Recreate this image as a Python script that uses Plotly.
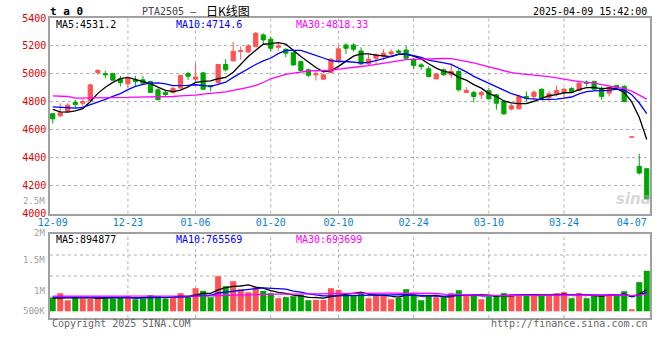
import plotly.graph_objects as go
import pandas as pd

# ---------------- data ----------------
dates = [
    "2024-12-09", "2024-12-10", "2024-12-11", "2024-12-12", "2024-12-13", "2024-12-16", "2024-12-17",
    "2024-12-18", "2024-12-19", "2024-12-20", "2024-12-23", "2024-12-24", "2024-12-25", "2024-12-26",
    "2024-12-27", "2024-12-30", "2024-12-31",
    "2025-01-02", "2025-01-03", "2025-01-06", "2025-01-07", "2025-01-08", "2025-01-09", "2025-01-10",
    "2025-01-13", "2025-01-14", "2025-01-15", "2025-01-16", "2025-01-17", "2025-01-20", "2025-01-21",
    "2025-01-22", "2025-01-23", "2025-01-24", "2025-01-27",
    "2025-02-05", "2025-02-06", "2025-02-07", "2025-02-10", "2025-02-11", "2025-02-12", "2025-02-13",
    "2025-02-14", "2025-02-17", "2025-02-18", "2025-02-19", "2025-02-20", "2025-02-21", "2025-02-24",
    "2025-02-25", "2025-02-26", "2025-02-27", "2025-02-28",
    "2025-03-03", "2025-03-04", "2025-03-05", "2025-03-06", "2025-03-07", "2025-03-10", "2025-03-11",
    "2025-03-12", "2025-03-13", "2025-03-14", "2025-03-17", "2025-03-18", "2025-03-19", "2025-03-20",
    "2025-03-21", "2025-03-24", "2025-03-25", "2025-03-26", "2025-03-27", "2025-03-28", "2025-03-31",
    "2025-04-01", "2025-04-02", "2025-04-03", "2025-04-07", "2025-04-08", "2025-04-09",
]

open_ = [4715, 4700, 4731, 4795, 4790, 4810, 5010, 5002, 5002, 4964,
         4929, 4957, 4957, 4945, 4886, 4867, 4867, 4898, 5002, 4962,
         5007, 4917, 4938, 5067, 5093, 5160, 5157, 5195, 5279, 5248,
         5190, 5176, 5152, 5088, 5029, 4993, 4962, 5010, 5095, 5207,
         5207, 5164, 5071, 5112, 5124, 5143, 5164, 5171, 5105, 5064,
         5036, 4964, 5029, 4993, 5017, 4867, 4867, 4850, 4879, 4850,
         4802, 4748, 4750, 4838, 4838, 4890, 4831, 4857, 4871, 4895,
         4881, 4940, 4945, 4898, 4862, 4917, 4910, 4548, 4338, 4321]
high = [4718, 4790, 4790, 4814, 4820, 4929, 5036, 5021, 5005, 4986,
        4981, 4986, 4986, 4950, 4898, 4879, 4910, 4993, 5014, 5076,
        5014, 4921, 5072, 5105, 5229, 5195, 5214, 5300, 5290, 5267,
        5224, 5183, 5160, 5095, 5038, 5029, 5000, 5114, 5200, 5219,
        5219, 5190, 5136, 5148, 5176, 5176, 5176, 5200, 5112, 5076,
        5057, 5000, 5040, 5076, 5033, 4905, 4879, 4879, 4898, 4857,
        4807, 4786, 4850, 4874, 4881, 4895, 4879, 4914, 4898, 4905,
        4952, 4952, 4952, 4910, 4910, 4921, 4921, 4548, 4428, 4321]
low = [4645, 4690, 4728, 4755, 4767, 4805, 4993, 4969, 4950, 4910,
       4898, 4914, 4929, 4862, 4814, 4838, 4857, 4893, 4957, 4945,
       4886, 4874, 4930, 5017, 5088, 5100, 5148, 5190, 5207, 5160,
       5167, 5119, 5057, 5017, 4976, 4952, 4960, 5005, 5090, 5143,
       5160, 5064, 5062, 5064, 5100, 5129, 5143, 5105, 5036, 5029,
       4974, 4962, 4988, 4969, 4874, 4862, 4795, 4819, 4814, 4743,
       4707, 4738, 4743, 4802, 4802, 4819, 4807, 4838, 4826, 4867,
       4874, 4910, 4886, 4814, 4838, 4886, 4795, 4548, 4279, 4100]
close = [4678, 4722, 4776, 4781, 4800, 4921, 5024, 4993, 4955, 4938,
         4964, 4945, 4933, 4867, 4814, 4852, 4895, 4988, 4983, 4978,
         4890, 4907, 5067, 5029, 5162, 5165, 5200, 5290, 5243, 5183,
         5200, 5148, 5064, 5024, 4990, 5000, 4993, 5105, 5179, 5183,
         5176, 5071, 5105, 5136, 5148, 5157, 5155, 5112, 5060, 5052,
         4981, 5000, 4993, 5017, 4886, 4881, 4838, 4867, 4821, 4790,
         4714, 4771, 4838, 4826, 4869, 4826, 4857, 4881, 4890, 4871,
         4933, 4933, 4890, 4838, 4902, 4905, 4802, 4548, 4290, 4105]
volume = [560000, 738000, 451000, 547000, 519000, 519000, 601000, 519000, 519000, 588000,
          629000, 492000, 519000, 656000, 615000, 519000, 574000, 738000, 574000, 943000,
          834000, 574000, 1435000, 1025000, 1230000, 902000, 779000, 984000, 834000, 738000,
          533000, 574000, 615000, 670000, 451000, 465000, 465000, 943000, 875000, 656000,
          656000, 779000, 533000, 683000, 656000, 492000, 547000, 902000, 683000, 451000,
          642000, 574000, 574000, 738000, 861000, 629000, 697000, 492000, 601000, 656000,
          738000, 656000, 656000, 697000, 656000, 656000, 656000, 738000, 779000, 533000,
          738000, 533000, 656000, 656000, 697000, 697000, 820000, 82000, 1189000, 1654000]

# moving-average values at the start of the window (history before 12-09)
price_ma5_head = [4745, 4728, 4726, 4735]
price_ma10_head = [4764, 4762, 4757, 4755, 4760, 4778, 4798, 4818, 4838]
price_ma30_head = [4843, 4843, 4838, 4826, 4826, 4826, 4829, 4831, 4831, 4829,
                   4831, 4833, 4833, 4833, 4836, 4838, 4838, 4843, 4845, 4848,
                   4855, 4860, 4864, 4871, 4881, 4890, 4903, 4918, 4938]
vol_ma5_head = [540000, 545000, 550000, 555000]
vol_ma10_head = [575000, 575000, 575000, 575000, 570000, 570000, 565000, 565000, 560000]
vol_ma30_head = [620000, 620000, 615000, 615000, 610000, 610000, 610000, 605000, 605000, 605000,
                 600000, 600000, 600000, 600000, 600000, 600000, 600000, 600000, 605000, 615000,
                 625000, 630000, 645000, 655000, 665000, 675000, 685000, 695000, 700000]

first_tick = "2024-12-09"
tick_dates = ["2024-12-23", "2025-01-06", "2025-01-20", "2025-02-10", "2025-02-24",
              "2025-03-10", "2025-03-24", "2025-04-07"]
price_ticks = [4000, 4200, 4400, 4600, 4800, 5000, 5200, 5400]
vol_tick_labels = ["2.5M", "2M", "1.5M", "1M", "500K"]

symbol_text = "t a 0"
title_code = "PTA2505 \u2013"
title_cn = "日K线图"
timestamp = "2025-04-09 15:42:00"
price_ma_text = ["MA5:4531.2", "MA10:4714.6", "MA30:4818.33"]
vol_ma_text = ["MA5:894877", "MA10:765569", "MA30:693699"]
copyright_text = "Copyright 2025 SINA.COM"
url_text = "http://finance.sina.com.cn"

# ---------------- styles ----------------
RED = "#ff5252"
GREEN = "#00a600"
MONO = "DejaVu Sans Mono"
GRID = "#b0b0b0"
BORDER = "#a0a0a0"
MA_COLORS = ["#000000", "#0000ff", "#ff00ff"]


def moving_average(values, n, head):
    s = pd.Series(values, dtype=float).rolling(n).mean()
    return list(head) + list(s.iloc[len(head):])


is_red = [c >= o for o, c in zip(open_, close)]

price_ma = [moving_average(close, 5, price_ma5_head),
            moving_average(close, 10, price_ma10_head),
            moving_average(close, 30, price_ma30_head)]
vol_ma = [moving_average(volume, 5, vol_ma5_head),
          moving_average(volume, 10, vol_ma10_head),
          moving_average(volume, 30, vol_ma30_head)]

fig = go.Figure()


def pick(arr, flag):
    return [v if f == flag else None for v, f in zip(arr, is_red)]


for flag, col in [(True, RED), (False, GREEN)]:
    fig.add_trace(go.Candlestick(
        x=dates, open=pick(open_, flag), high=pick(high, flag),
        low=pick(low, flag), close=pick(close, flag),
        increasing=dict(line=dict(color=col, width=1), fillcolor=col),
        decreasing=dict(line=dict(color=col, width=1), fillcolor=col),
        whiskerwidth=0, showlegend=False, hoverinfo="skip",
        xaxis="x", yaxis="y"))

for vals, col in zip(price_ma, MA_COLORS):
    fig.add_trace(go.Scatter(x=dates, y=vals, mode="lines",
                             line=dict(color=col, width=1.3),
                             showlegend=False, hoverinfo="skip",
                             xaxis="x", yaxis="y"))

fig.add_trace(go.Bar(x=dates, y=volume,
                     marker=dict(color=[RED if r else GREEN for r in is_red], line=dict(width=0)),
                     showlegend=False, hoverinfo="skip", xaxis="x2", yaxis="y2"))

for vals, col in zip(vol_ma, MA_COLORS):
    fig.add_trace(go.Scatter(x=dates, y=vals, mode="lines",
                             line=dict(color=col, width=1.3),
                             showlegend=False, hoverinfo="skip",
                             xaxis="x2", yaxis="y2"))

# ---------------- layout ----------------
W, H = 660, 360
ML, MR, MT, MB = 50, 10, 18, 42
plot_h = H - MT - MB


def py(ypx):
    return (H - MB - ypx) / plot_h


def px(xpx):
    return (xpx - ML) / (W - ML - MR)


x_range = [-0.36, len(dates) - 1 + 0.43]

fig.update_layout(
    width=W, height=H,
    margin=dict(l=ML, r=MR, t=MT, b=MB, autoexpand=False),
    paper_bgcolor="white", plot_bgcolor="white",
    font=dict(family=MONO, size=10, color="#000"),
    boxgap=0.2, bargap=0.2,
    showlegend=False,
    xaxis=dict(type="category", domain=[0, 1], anchor="y", range=x_range,
               rangeslider=dict(visible=False),
               tickmode="array", tickvals=[first_tick] + tick_dates,
               ticktext=[d[5:] for d in [first_tick] + tick_dates],
               tickfont=dict(family=MONO, size=10, color="#0a7fd4"),
               ticklabelstandoff=-1,
               showgrid=False, showline=True, mirror=True, linecolor=BORDER, linewidth=1.5,
               ticks="", zeroline=False),
    yaxis=dict(domain=[py(213.5), 1], anchor="x", range=[4000, 5400],
               tickmode="array", tickvals=price_ticks,
               tickfont=dict(family=MONO, size=10, color="#e00000"),
               showgrid=True, gridcolor=GRID, griddash="dot", gridwidth=1,
               showline=True, mirror=True, linecolor=BORDER, linewidth=1.5,
               ticks="", zeroline=False),
    xaxis2=dict(type="category", domain=[0, 1], anchor="y2", matches="x", range=x_range,
                showticklabels=False, showgrid=False, showline=True, mirror=True,
                linecolor=BORDER, linewidth=1.5, ticks="", zeroline=False),
    yaxis2=dict(domain=[0, py(234)], anchor="x2",
                range=[-(317.7 - 311) * 41000, (311 - 234) * 41000],
                showticklabels=False, showgrid=False, showline=True, mirror=True,
                linecolor=BORDER, linewidth=1.5, ticks="", zeroline=False),
)

shapes = []
for d in tick_dates[:-1]:
    shapes.append(dict(type="line", xref="x", yref="y domain", x0=d, x1=d, y0=0, y1=1,
                       line=dict(color=GRID, width=1, dash="dot"), layer="below"))
    shapes.append(dict(type="line", xref="x2", yref="y2 domain", x0=d, x1=d, y0=0, y1=1,
                       line=dict(color=GRID, width=1, dash="dot"), layer="below"))
for f in [0.25, 0.5, 0.75]:
    shapes.append(dict(type="line", xref="paper", yref="y2 domain", x0=0, x1=1, y0=f, y1=f,
                       line=dict(color=GRID, width=1, dash="dot"), layer="below"))
fig.update_layout(shapes=shapes)

ann = []
ann.append(dict(text="<b>" + symbol_text + "</b>", x=px(48), y=py(11.5), xanchor="left",
                font=dict(family=MONO, size=11, color="#000")))
ann.append(dict(text=title_code, x=px(140), y=py(11.5), xanchor="left",
                font=dict(family=MONO, size=10, color="#444")))
ann.append(dict(text=title_cn, x=px(204), y=py(10.5), xanchor="left",
                font=dict(family="Noto Sans CJK SC", size=12, color="#000")))
ann.append(dict(text=timestamp, x=px(649), y=py(11.5), xanchor="right",
                font=dict(family=MONO, size=10, color="#000")))
for t, xp, col in zip(price_ma_text, [54, 174, 294], MA_COLORS):
    ann.append(dict(text=t, x=px(xp), y=py(24.5), xanchor="left",
                    font=dict(family=MONO, size=10, color=col)))
for t, xp, col in zip(vol_ma_text, [54, 174, 294], MA_COLORS):
    ann.append(dict(text=t, x=px(xp), y=py(239), xanchor="left",
                    font=dict(family=MONO, size=10, color=col)))
for t, yp in zip(vol_tick_labels, [200.7, 233.5, 260.3, 290.7, 310.5]):
    ann.append(dict(text=t, x=px(46.5), y=py(yp), xanchor="right",
                    font=dict(family=MONO, size=9, color="#a0a0a0")))
ann.append(dict(text=copyright_text, x=px(50), y=py(323.3), xanchor="left",
                font=dict(family=MONO, size=10, color="#666")))
ann.append(dict(text=url_text, x=px(649.5), y=py(323.3), xanchor="right",
                font=dict(family=MONO, size=10, color="#666")))
ann.append(dict(text="<b><i>sina</i></b>", x=px(633), y=py(199), xanchor="center",
                font=dict(family="DejaVu Sans", size=15, color="rgba(180,180,180,0.55)")))
for a in ann:
    a.update(xref="paper", yref="paper", yanchor="middle", showarrow=False)
fig.update_layout(annotations=ann)

fig.write_html("out.html",
               config={"displayModeBar": False},
               post_script="document.body.style.margin='0px';document.body.style.padding='0px';")
